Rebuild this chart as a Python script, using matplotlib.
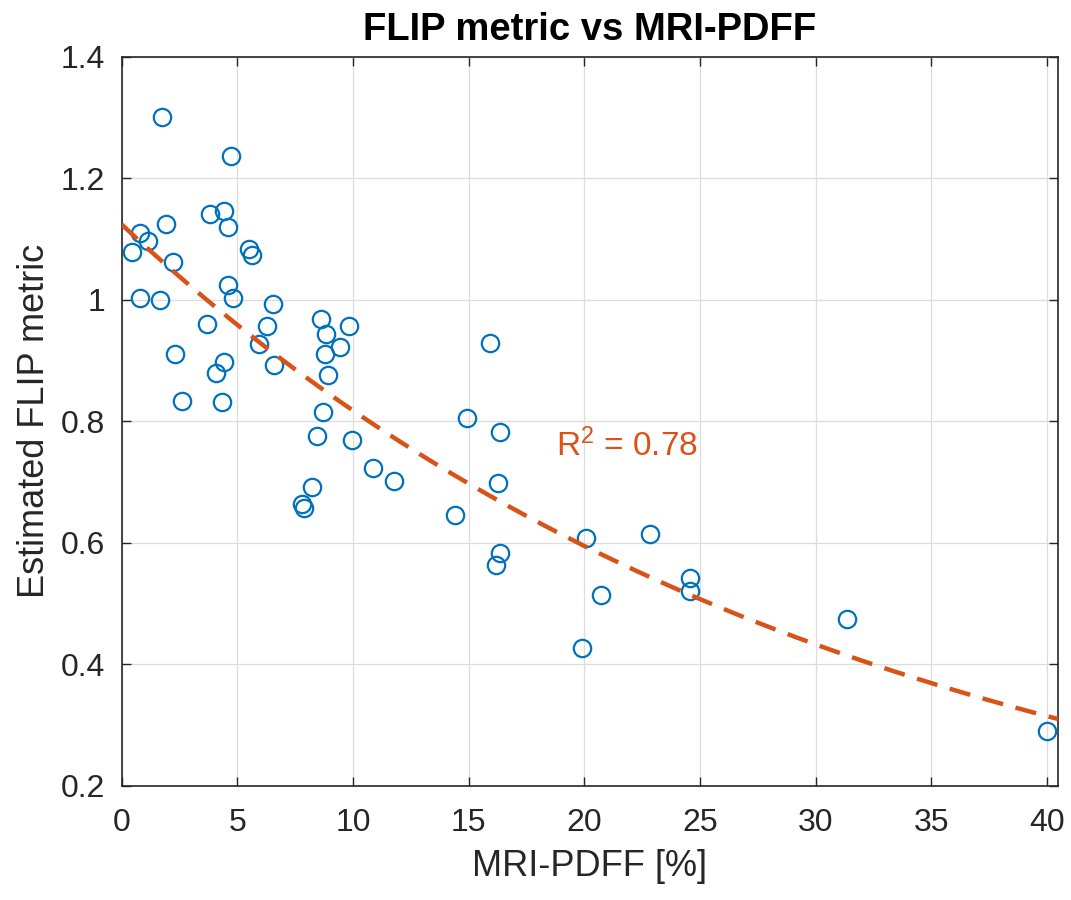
import numpy as np
import matplotlib
matplotlib.use('Agg')
import matplotlib.pyplot as plt

# Dados (MRI-PDFF [%] x métrica FLIP estimada)
pdff = [1.73, 4.72, 3.82, 4.42, 4.61, 1.91, 0.79, 1.15, 0.43, 2.20,
        5.50, 5.64, 4.61, 4.80, 0.79, 1.66, 6.55, 3.67, 6.29, 8.64,
        9.84, 8.83, 5.95, 9.46, 8.80, 2.30, 4.43, 6.58, 4.06, 8.93,
        2.59, 4.35, 8.71, 8.43, 9.94, 15.92, 14.95, 16.35, 10.87, 11.78,
        8.25, 7.78, 7.88, 16.27, 14.40, 16.35, 16.18, 20.09, 22.86, 20.74,
        24.56, 24.56, 19.92, 31.36, 40.00]
flip = [1.301, 1.237, 1.141, 1.146, 1.120, 1.124, 1.110, 1.097, 1.078, 1.063,
        1.084, 1.074, 1.024, 1.003, 1.003, 1.000, 0.993, 0.960, 0.957, 0.968,
        0.957, 0.943, 0.928, 0.923, 0.911, 0.911, 0.898, 0.893, 0.879, 0.876,
        0.834, 0.831, 0.816, 0.776, 0.769, 0.929, 0.805, 0.783, 0.724, 0.702,
        0.692, 0.664, 0.657, 0.699, 0.646, 0.583, 0.564, 0.608, 0.614, 0.514,
        0.542, 0.520, 0.427, 0.475, 0.291]

# ajuste exponencial y = a*exp(b*x) (coeficientes)
fit_a = 1.124
fit_b = -0.0318
r2_text = 'R$^2$ = 0.78'

plt.rcParams['font.family'] = ['Liberation Sans', 'DejaVu Sans']
plt.rcParams['mathtext.fontset'] = 'custom'
plt.rcParams['mathtext.rm'] = 'Liberation Sans'
plt.rcParams['mathtext.it'] = 'Liberation Sans:italic'

dark = '#262626'
blue = '#0072BD'
orange = '#D95319'

fig = plt.figure(figsize=(10.71, 9), dpi=100)
ax = fig.add_axes([0.1136, 0.1267, 0.8746, 0.8103])

ax.plot(pdff, flip, 'o', mfc='none', mec=blue, ms=12.5, mew=1.6, zorder=3)

xfit = np.linspace(0, 40.5, 200)
ax.plot(xfit, fit_a * np.exp(fit_b * xfit), color=orange, lw=3.2,
        dashes=(4.8, 2.9), zorder=4)

ax.text(18.8, 0.742, r2_text, color=orange, fontsize=24, ha='left', va='baseline')

ax.set_xlim(0, 40.5)
ax.set_ylim(0.2, 1.4)
ax.set_xticks(np.arange(0, 41, 5))
ax.set_yticks([0.2, 0.4, 0.6, 0.8, 1.0, 1.2, 1.4])
ax.set_yticklabels(['0.2', '0.4', '0.6', '0.8', '1', '1.2', '1.4'])

ax.grid(True, color='#dcdcdc', lw=0.9)
ax.set_axisbelow(True)
for s in ax.spines.values():
    s.set_color(dark)
    s.set_linewidth(1.2)
ax.tick_params(direction='in', top=True, right=True, length=6.5, width=1.0,
               colors=dark, labelsize=23)
ax.tick_params(axis='x', pad=16)
ax.tick_params(axis='y', pad=12)

ax.set_title('FLIP metric vs MRI-PDFF', fontsize=27.5, fontweight='bold', pad=12)
ax.set_xlabel('MRI-PDFF [%]', fontsize=26, color=dark, labelpad=8)
ax.set_ylabel('Estimated FLIP metric', fontsize=26, color=dark, labelpad=6)

fig.savefig('out.png', dpi=100)
